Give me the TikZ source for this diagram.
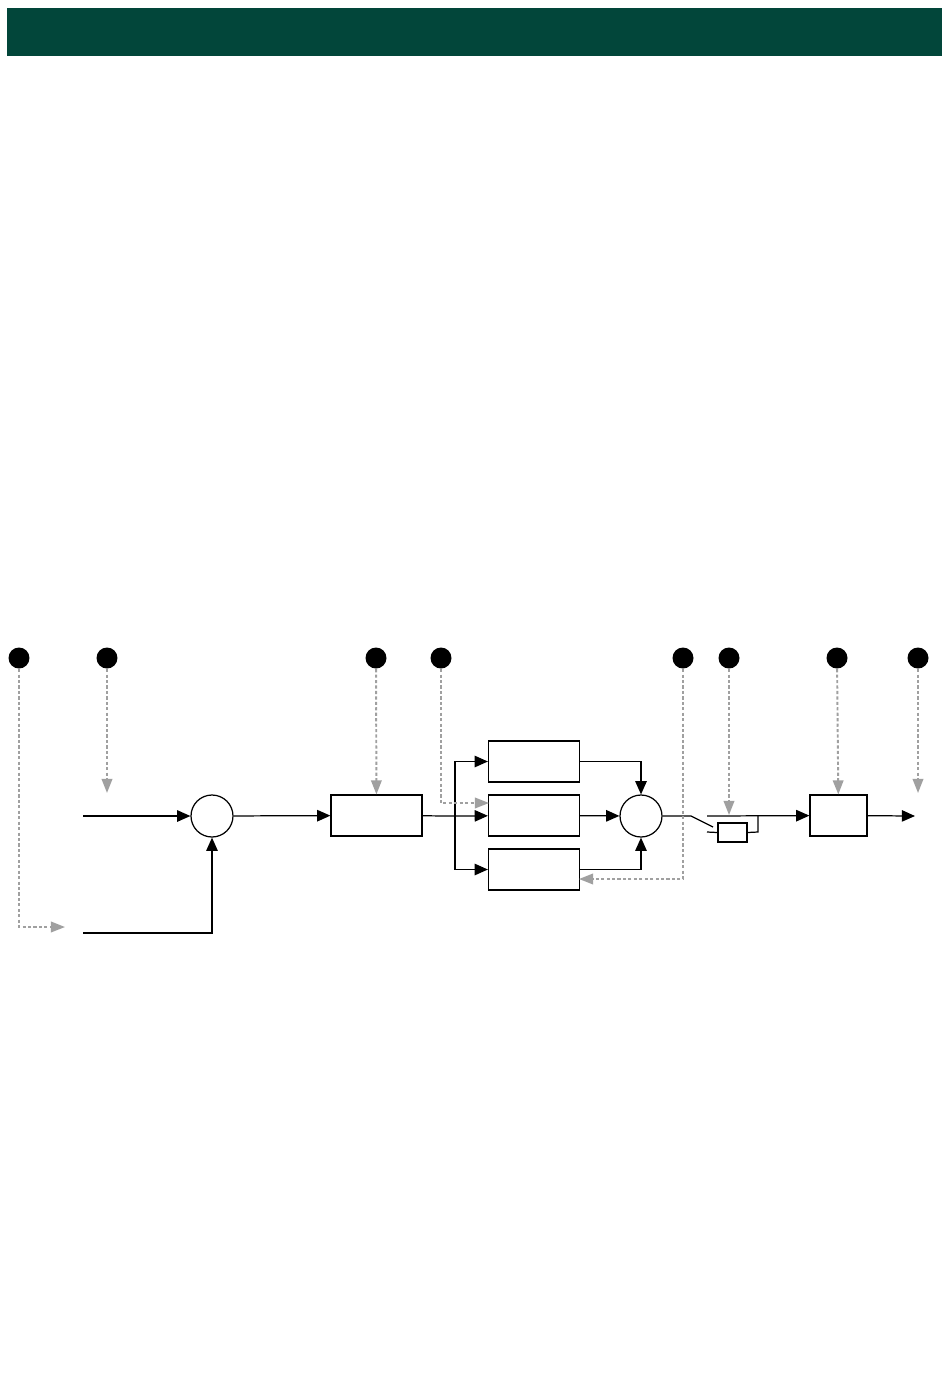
\documentclass[tikz,border=0pt]{standalone}
\usepackage{tikz}
\usetikzlibrary{arrows.meta}

\definecolor{headgreen}{RGB}{2,70,58}
\definecolor{ctrlgray}{RGB}{160,160,160}

\begin{document}
\begin{tikzpicture}[x=0.02cm, y=-0.02cm, line width=0.7pt,
    >={Triangle[length=7.5pt,width=6.5pt]},
    blk/.style={draw, rectangle, minimum width=1.82cm, minimum height=0.82cm, inner sep=0pt},
    sum/.style={draw, circle, minimum size=0.84cm, inner sep=0pt},
    dot/.style={fill, circle, minimum size=0.42cm, inner sep=0pt},
    ctrl/.style={-{Triangle[length=8pt,width=6pt]}, ctrlgray, line width=1.1pt, dash pattern=on 1.8pt off 1.3pt}]
    \useasboundingbox (0,0) rectangle (950,1387);

    % 标题栏
    \fill[headgreen] (7,8) rectangle (942,56);

    % 控制点
    \foreach \name/\x in {d1/19, d2/107, d3/376, d4/441, d5/683, d6/729, d7/837, d8/918}
        \node[dot] (\name) at (\x,658) {};

    % 方框与求和点
    \node[sum] (sum1) at (212,816) {};
    \node[blk] (pre) at (376.5,815.5) {};
    \node[blk] (upper) at (534,761.5) {};
    \node[blk] (mid) at (534,815.5) {};
    \node[blk] (lower) at (534,869.5) {};
    \node[sum] (sum2) at (641,816) {};
    \node[draw, minimum width=0.58cm, minimum height=0.38cm, inner sep=0pt] (res) at (732.5,832.5) {};
    \node[blk, minimum width=1.14cm] (post) at (838.5,815.5) {};

    % 自由端点
    \coordinate (in1) at (83,816);
    \coordinate (in2) at (83,933);
    \coordinate (split) at (455,816);
    \coordinate (sw1) at (691,816);
    \coordinate (sw2) at (713,827);
    \coordinate (lead1) at (707,816);
    \coordinate (lead2) at (707,832);
    \coordinate (tap) at (758,832);
    \coordinate (out) at (915,816);
    \coordinate (t1) at (65,927);
    \coordinate (t2) at (107,793);
    \coordinate (t4) at (489,803);
    \coordinate (t5) at (579,879);
    \coordinate (t6) at (729,815);
    \coordinate (t8) at (918,793);

    % 信号通路
    \draw[->] (in1) -- (sum1);
    \draw[->] (in2) -| (sum1);
    \draw[->] (sum1) -- (pre);
    \draw (pre) -- (split);
    \draw[->] (split) |- (upper);
    \draw[->] (split) -- (mid);
    \draw[->] (split) |- (lower);
    \draw[->] (upper) -| (sum2);
    \draw[->] (mid) -- (sum2);
    \draw[->] (lower) -| (sum2);

    % 开关
    \draw (sum2) -- (sw1) -- (sw2);
    \draw (lead2) -- (res.west);
    \draw (res.east) -- (tap) -- (tap |- lead1);
    \draw[->] (lead1) -- (post);
    \draw[->] (post) -- (out);

    % 控制线
    \draw[ctrl] (d1) |- (t1);
    \draw[ctrl] (d2) -- (t2);
    \draw[ctrl] (d3) -- (pre);
    \draw[ctrl] (d4) |- (t4);
    \draw[ctrl] (d5) |- (t5);
    \draw[ctrl] (d6) -- (t6);
    \draw[ctrl] (d7) -- (post);
    \draw[ctrl] (d8) -- (t8);
\end{tikzpicture}
\end{document}
